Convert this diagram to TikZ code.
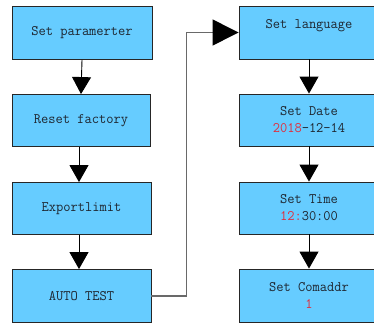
\documentclass[tikz,border=0pt]{standalone}
\usepackage{fontspec}
\usetikzlibrary{arrows.meta}
\newfontfamily\monof[FakeStretch=0.97]{Latin Modern Mono}
\definecolor{boxblue}{RGB}{102,204,255}
\definecolor{txtc}{RGB}{30,38,48}
\definecolor{redtxt}{RGB}{225,45,60}
\definecolor{linkgray}{RGB}{105,105,105}
\tikzset{
  box/.style={draw=black!85, fill=boxblue, line width=0.9pt, minimum width=140pt,
    minimum height=53pt, inner sep=0pt, align=center, text=txtc,
    font=\monof\fontsize{14.5}{17}\selectfont},
  arr/.style={draw=black, line width=0.9pt, -{Triangle[width=19pt,length=17pt]}},
  link/.style={draw=linkgray, line width=1.3pt, -{Triangle[width=26pt,length=26pt,color=black]}}
}
\begin{document}
\begin{tikzpicture}[x=1pt,y=-1pt]
\clip (0,0) rectangle (374,322);
\fill[white] (0,0) rectangle (374,322);
\node[box, minimum width=140pt] (b1) at (82,33) {Set paramerter};
\node[box, minimum width=138pt, minimum height=52pt] (b2) at (81,120.5) {Reset factory};
\node[box, minimum width=139pt, minimum height=52pt] (b3) at (81.5,208.5) {Exportlimit};
\node[box, minimum width=139pt] (b4) at (81.5,296) {AUTO TEST};
\node[box] (r1) at (309,32.5) {Set language\\\phantom{1}};
\node[box, minimum height=52pt] (r2) at (309,120) {Set Date\\\textcolor{redtxt}{2018}-12-14};
\node[box, minimum height=52pt] (r3) at (309,208) {Set Time\\\textcolor{redtxt}{12:}30:00};
\node[box] (r4) at (309,295.5) {Set Comaddr\\\textcolor{redtxt}{1}};
\draw[arr] (b1.south) -- (b2.north);
\draw[arr] ([xshift=-2pt]b2.south) -- ([xshift=-2.5pt]b3.north);
\draw[arr] ([xshift=-2.5pt]b3.south) -- ([xshift=-2.5pt]b4.north);
\draw[arr] (r1.south) -- (r2.north);
\draw[arr] (r2.south) -- (r3.north);
\draw[arr] (r3.south) -- (r4.north);
\draw[link] (b4.east) -- ++(35,0) |- (r1.west);
\end{tikzpicture}
\end{document}
